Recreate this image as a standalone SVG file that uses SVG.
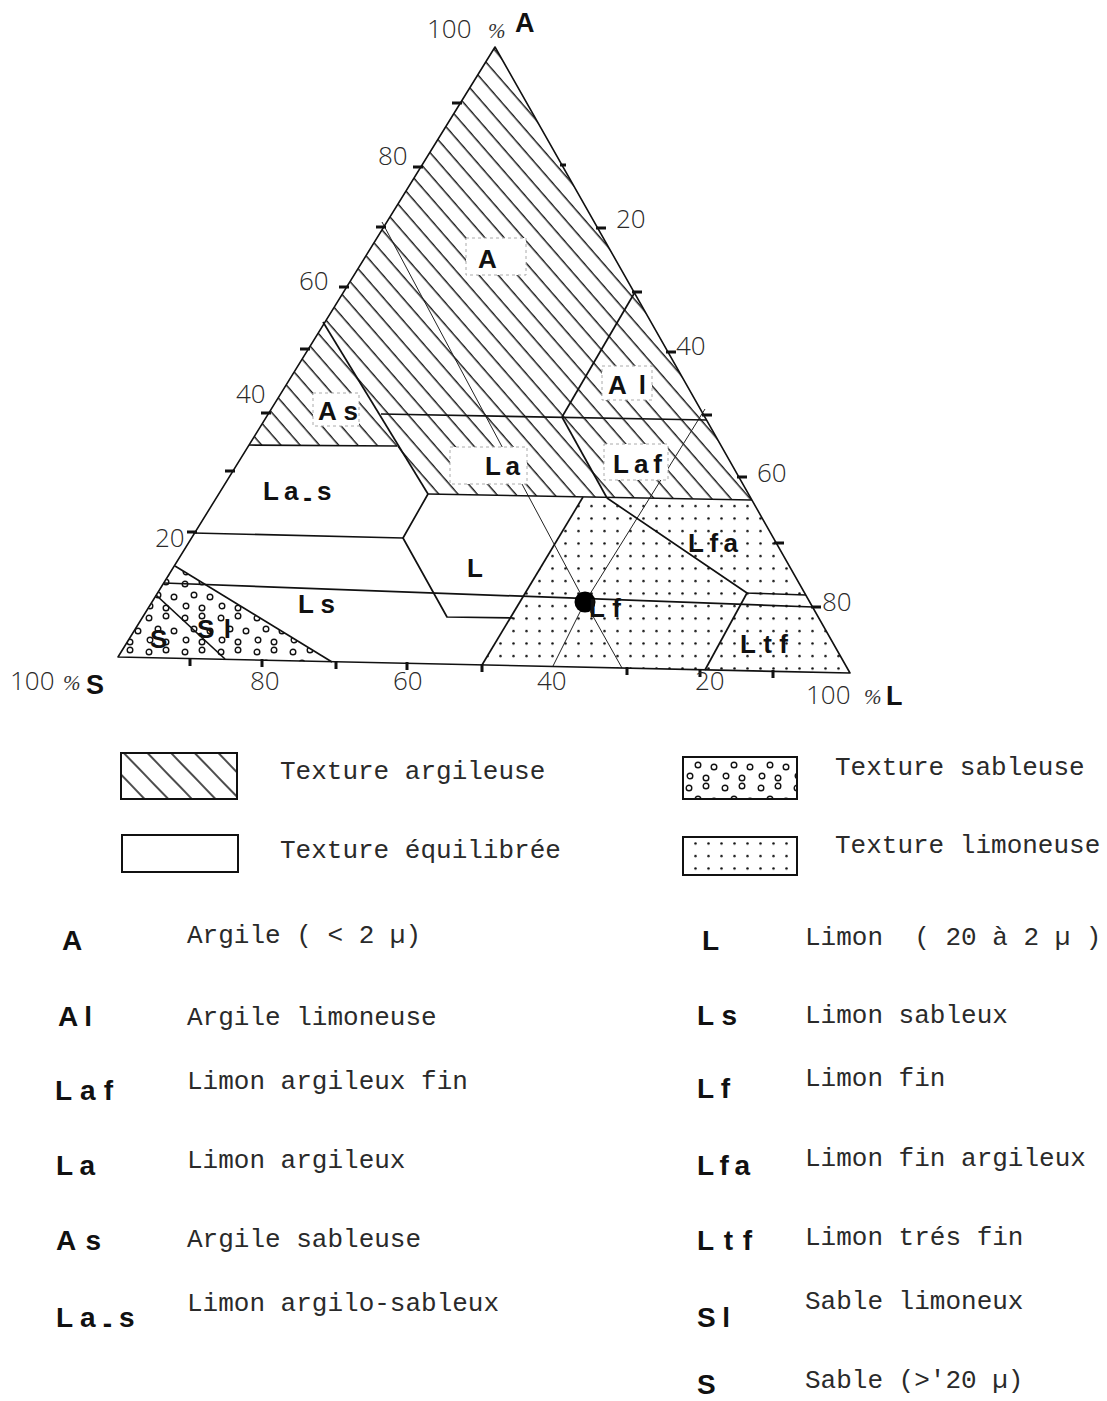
<svg xmlns="http://www.w3.org/2000/svg" width="1107" height="1401" viewBox="0 0 1107 1401">
  <style>
    .edge{fill:none;stroke:#111;stroke-width:1.6;stroke-linejoin:round}
    .bnd{fill:none;stroke:#111;stroke-width:1.7;stroke-linejoin:round}
    .thin{fill:none;stroke:#222;stroke-width:1}
    .tick{fill:none;stroke:#111;stroke-width:3}
    .num{font-family:"Open Sans","Liberation Sans",sans-serif;font-weight:300;font-size:26px;fill:#2a2a2a}
    .pct{font-family:"Liberation Serif",serif;font-style:italic;font-size:21px;fill:#333}
    .axis{font-family:"Liberation Sans",Arial,sans-serif;font-weight:bold;font-size:27px;fill:#111}
    .code{font-family:"Liberation Sans",Arial,sans-serif;font-weight:bold;font-size:26px;fill:#111}
    .key{font-family:"Liberation Sans",Arial,sans-serif;font-weight:bold;font-size:28px;fill:#111}
    .desc{font-family:"Liberation Mono","Courier New",monospace;font-size:26px;fill:#2a2a2a}
    .tag{fill:#fff;stroke:#aaa;stroke-width:1;stroke-dasharray:3 3}
    .box{stroke:#111;stroke-width:2}
  </style>
  <defs>
    <pattern id="hatch" patternUnits="userSpaceOnUse" width="14.5" height="20" patternTransform="rotate(-41)">
      <line x1="7" y1="-1" x2="7" y2="21" stroke="#111" stroke-width="1.4"/>
    </pattern>
    <pattern id="hatchKey" patternUnits="userSpaceOnUse" width="17" height="20" patternTransform="rotate(-44)">
      <line x1="8" y1="-1" x2="8" y2="21" stroke="#111" stroke-width="1.5"/>
    </pattern>
    <pattern id="dots" patternUnits="userSpaceOnUse" width="13" height="12.5">
      <circle cx="6.5" cy="6" r="1.25" fill="#111"/>
    </pattern>
    <pattern id="sand" patternUnits="userSpaceOnUse" width="36" height="34">
      <g fill="none" stroke="#111" stroke-width="1.4">
        <circle cx="5" cy="6" r="2.8"/>
        <circle cx="22" cy="4" r="2.8"/>
        <circle cx="14" cy="17" r="2.8"/>
        <circle cx="30" cy="19" r="2.8"/>
        <circle cx="6" cy="28" r="2.8"/>
        <circle cx="22" cy="30" r="2.8"/>
      </g>
    </pattern>
  </defs>

  <rect width="1107" height="1401" fill="#fff"/>

  <!-- texture zones -->
  <g id="zone-argileuse">
    <path d="M495,47 L752,500 L428,494 L397,446 L249,445 Z" fill="url(#hatch)"/>
  </g>
  <g id="zone-limoneuse">
    <path d="M583,497 L752,500 L850,673 L482,665 Z" fill="url(#dots)"/>
  </g>
  <g id="zone-sableuse">
    <path d="M175,566 L332,662 L118,657 Z" fill="url(#sand)"/>
  </g>

  <!-- construction lines crossing the classes -->
  <g id="guides">
    <polyline class="thin" points="382,222 585,602 622,668"/>
    <polyline class="thin" points="705,409 585,602 553,666"/>
  </g>

  <!-- cleared label plates inside the hatching -->
  <g id="plates">
    <rect class="tag" x="466" y="238" width="60" height="37"/>
    <rect class="tag" x="313" y="393" width="46" height="33"/>
    <rect class="tag" x="450" y="447" width="77" height="37"/>
    <rect class="tag" x="604" y="444" width="64" height="36"/>
    <rect class="tag" x="602" y="366" width="50" height="34"/>
  </g>

  <!-- class boundaries -->
  <g id="connectors">
    <path class="edge" d="M495,47 L850,673 L118,657 Z"/>
    <line class="bnd" x1="381" y1="414" x2="707" y2="420"/>
    <line class="bnd" x1="635" y1="292" x2="562" y2="417"/>
    <line class="bnd" x1="562" y1="417" x2="607" y2="498"/>
    <polyline class="bnd" points="607,498 747,593 806,595"/>
    <line class="bnd" x1="747" y1="593" x2="705" y2="670"/>
    <line class="bnd" x1="583" y1="497" x2="482" y2="665"/>
    <line class="bnd" x1="428" y1="494" x2="752" y2="500"/>
    <line class="bnd" x1="323" y1="322" x2="428" y2="494"/>
    <line class="bnd" x1="249" y1="445" x2="397" y2="446"/>
    <line class="bnd" x1="193" y1="533" x2="403" y2="538"/>
    <polyline class="bnd" points="428,494 403,538 447,617 513,618"/>
    <line class="bnd" x1="164" y1="583" x2="813" y2="607"/>
    <line class="bnd" x1="175" y1="566" x2="332" y2="662"/>
    <line class="bnd" x1="156" y1="595" x2="225" y2="659"/>
    <circle cx="585" cy="602" r="10.5" fill="#000"/>
  </g>

  <!-- scale ticks -->
  <g id="ticks" class="tick">
    <path d="M462,103 h-10 M423,167 h-10 M386,227 h-10 M349,287 h-10 M310,349 h-10 M271,413 h-10 M235,471 h-10 M197,532 h-10"/>
    <path d="M560,165 h6 M596,228 h10 M632,292 h10 M666,352 h10 M702,415 h10 M737,477 h10 M774,543 h10 M811,607 h10"/>
    <path d="M190,658 v8 M262,659 v8 M336,661 v8 M407,662 v8 M482,664 v8 M627,667 v8 M700,669 v8 M773,670 v8"/>
  </g>

  <!-- scale figures -->
  <g id="scale">
    <text class="num" x="427" y="38">100</text>
    <text class="pct" x="488" y="38">%</text>
    <text class="axis" x="515" y="32">A</text>
    <text class="num" x="10" y="690">100</text>
    <text class="pct" x="63" y="690">%</text>
    <text class="axis" x="86" y="694">S</text>
    <text class="num" x="806" y="704">100</text>
    <text class="pct" x="864" y="704">%</text>
    <text class="axis" x="886" y="705">L</text>

    <text class="num" x="378" y="165">80</text>
    <text class="num" x="299" y="290">60</text>
    <text class="num" x="236" y="403">40</text>
    <text class="num" x="155" y="547">20</text>

    <text class="num" x="616" y="228">20</text>
    <text class="num" x="676" y="355">40</text>
    <text class="num" x="757" y="482">60</text>
    <text class="num" x="822" y="611">80</text>

    <text class="num" x="250" y="690">80</text>
    <text class="num" x="393" y="690">60</text>
    <text class="num" x="537" y="690">40</text>
    <text class="num" x="695" y="690">20</text>
  </g>

  <!-- class names inside the triangle -->
  <g id="class-A"><text class="code" x="478" y="268">A</text></g>
  <g id="class-Al"><text class="code" x="608" y="394" textLength="38">Al</text></g>
  <g id="class-As"><text class="code" x="318" y="420" textLength="40">As</text></g>
  <g id="class-La"><text class="code" x="485" y="475" textLength="35">La</text></g>
  <g id="class-Laf"><text class="code" x="613" y="473" textLength="49">Laf</text></g>
  <g id="class-La-s"><text class="code" x="263" y="500" letter-spacing="5">La<tspan dy="6">-</tspan><tspan dy="-6">s</tspan></text></g>
  <g id="class-L"><text class="code" x="467" y="577">L</text></g>
  <g id="class-Ls"><text class="code" x="298" y="613" textLength="37">Ls</text></g>
  <g id="class-Lfa"><text class="code" x="688" y="552" textLength="50">Lfa</text></g>
  <g id="class-Lf"><text class="code" x="589" y="617" textLength="32">Lf</text></g>
  <g id="class-Ltf"><text class="code" x="740" y="653" textLength="48">Ltf</text></g>
  <g id="class-Sl"><text class="code" x="197" y="638" textLength="34">Sl</text></g>
  <g id="class-S"><text class="code" x="150" y="648">S</text></g>

  <!-- texture key -->
  <g id="key-argileuse">
    <rect class="box" x="121" y="753" width="116" height="46" fill="url(#hatchKey)"/>
    <text class="desc" x="280" y="779">Texture argileuse</text>
  </g>
  <g id="key-equilibree">
    <rect class="box" x="122" y="835" width="116" height="37" fill="none"/>
    <text class="desc" x="280" y="858">Texture équilibrée</text>
  </g>
  <g id="key-sableuse">
    <rect class="box" x="683" y="757" width="114" height="42" fill="url(#sand)"/>
    <text class="desc" x="835" y="775">Texture sableuse</text>
  </g>
  <g id="key-limoneuse">
    <rect class="box" x="683" y="837" width="114" height="38" fill="url(#dots)"/>
    <text class="desc" x="835" y="853">Texture limoneuse</text>
  </g>

  <!-- abbreviations -->
  <g id="abbr-A"><text class="key" x="62" y="950">A</text><text class="desc" x="187" y="943">Argile ( &lt; 2 µ)</text></g>
  <g id="abbr-Al"><text class="key" x="58" y="1026" textLength="34">Al</text><text class="desc" x="187" y="1025">Argile limoneuse</text></g>
  <g id="abbr-Laf"><text class="key" x="55" y="1100" textLength="58">Laf</text><text class="desc" x="187" y="1089">Limon argileux fin</text></g>
  <g id="abbr-La"><text class="key" x="56" y="1175" textLength="39">La</text><text class="desc" x="187" y="1168">Limon argileux</text></g>
  <g id="abbr-As"><text class="key" x="56" y="1250" textLength="45">As</text><text class="desc" x="187" y="1247">Argile sableuse</text></g>
  <g id="abbr-La-s"><text class="key" x="56" y="1327" letter-spacing="7">La<tspan dy="6">-</tspan><tspan dy="-6">s</tspan></text><text class="desc" x="187" y="1311">Limon argilo-sableux</text></g>

  <g id="abbr-L"><text class="key" x="702" y="950">L</text><text class="desc" x="805" y="945" xml:space="preserve">Limon  ( 20 à 2 µ )</text></g>
  <g id="abbr-Ls"><text class="key" x="697" y="1025" textLength="40">Ls</text><text class="desc" x="805" y="1023">Limon sableux</text></g>
  <g id="abbr-Lf"><text class="key" x="697" y="1098" textLength="33">Lf</text><text class="desc" x="805" y="1086">Limon fin</text></g>
  <g id="abbr-Lfa"><text class="key" x="697" y="1175" textLength="53">Lfa</text><text class="desc" x="805" y="1166">Limon fin argileux</text></g>
  <g id="abbr-Ltf"><text class="key" x="697" y="1250" textLength="55">Ltf</text><text class="desc" x="805" y="1245">Limon trés fin</text></g>
  <g id="abbr-Sl"><text class="key" x="697" y="1327" textLength="33">Sl</text><text class="desc" x="805" y="1309">Sable limoneux</text></g>
  <g id="abbr-S"><text class="key" x="697" y="1394">S</text><text class="desc" x="805" y="1388">Sable (&gt;'20 µ)</text></g>
</svg>
